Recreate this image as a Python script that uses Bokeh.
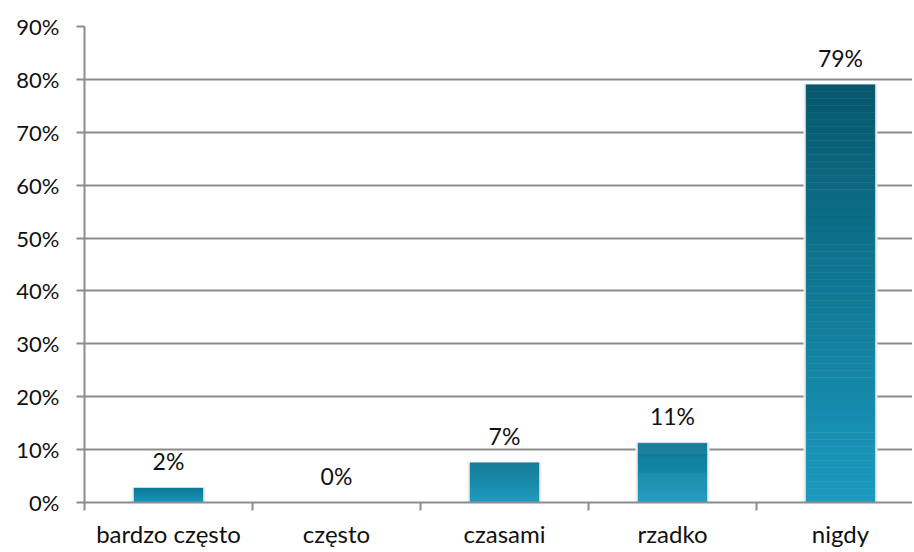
import numpy as np
from bokeh.plotting import figure
from bokeh.models import FixedTicker, NumeralTickFormatter, ColumnDataSource
from bokeh.core.properties import value
from bokeh.embed import file_html
from bokeh.resources import INLINE

categories = ["bardzo często", "często", "czasami", "rzadko", "nigdy"]
values = [2.7, 0.0, 7.5, 11.2, 79.0]          # percent, bar heights
labels = ["2%", "0%", "7%", "11%", "79%"]       # data labels as shown
y_ticks = [0, 10, 20, 30, 40, 50, 60, 70, 80, 90]

FONT = "Lato"
GRID = "#8c8c8c"
LIGHT = np.array([27, 155, 192])
DARK = np.array([6, 88, 108])

W, H = 912, 550
LEFT, TOP, FRAME_H, BAND = 84, 26, 480, 168

centers = [i + 0.5 for i in range(len(categories))]
vals = [v / 100 for v in values]

p = figure(width=W, height=H, output_backend="svg", toolbar_location=None,
           x_range=(0, (W - LEFT) / BAND), y_range=(0, 0.9),
           min_border_left=LEFT, min_border_right=0, min_border_top=TOP,
           min_border_bottom=H - TOP - FRAME_H)
p.outline_line_color = None
p.background_fill_color = "white"
p.xgrid.grid_line_color = None
p.ygrid.grid_line_color = GRID
p.ygrid.grid_line_width = 2
p.ygrid.ticker = FixedTicker(ticks=[t / 100 for t in y_ticks])

# y axis
p.yaxis.ticker = FixedTicker(ticks=[t / 100 for t in y_ticks])
p.yaxis.formatter = NumeralTickFormatter(format="0%")
p.yaxis.axis_line_color = GRID
p.yaxis.axis_line_width = 2
p.yaxis.major_tick_line_color = GRID
p.yaxis.major_tick_line_width = 2
p.yaxis.major_tick_out = 8
p.yaxis.major_tick_in = 0
p.yaxis.minor_tick_line_color = None
p.yaxis.major_label_standoff = 17
p.yaxis.major_label_text_font = FONT
p.yaxis.major_label_text_font_size = "22px"
p.yaxis.major_label_text_color = "#111111"

# x axis: labels at centers, ticks at boundaries
p.xaxis.ticker = FixedTicker(ticks=centers, minor_ticks=list(range(len(categories) + 1)))
p.xaxis.major_label_overrides = {c: n for c, n in zip(centers, categories)}
p.xaxis.axis_line_color = GRID
p.xaxis.axis_line_width = 2
p.xaxis.major_tick_line_color = None
p.xaxis.minor_tick_line_color = GRID
p.xaxis.minor_tick_line_width = 2
p.xaxis.minor_tick_out = 8
p.xaxis.minor_tick_in = 0
p.xaxis.major_label_standoff = 8
p.xaxis.major_label_text_font = FONT
p.xaxis.major_label_text_font_size = "24px"
p.xaxis.major_label_text_color = "#111111"

BAR_W = 0.41
# subtle shadow
p.vbar(x=centers, top=[v + 0.002 if v > 0 else 0 for v in vals], bottom=0,
       width=BAR_W + 0.03, fill_color="#ededed", line_color=None)

# gradient bars from stacked slices
N = 60
vmax = max(vals)
xs, bots, tops, cols = [], [], [], []
for c, v in zip(centers, vals):
    if v <= 0:
        continue
    top_mix = 0.45 + 0.55 * (v / vmax)
    for i in range(N):
        b = v * i / N
        t = v * (i + 1) / N
        frac = (i + 0.5) / N * top_mix
        rgb = (LIGHT + (DARK - LIGHT) * frac).astype(int)
        xs.append(c); bots.append(b); tops.append(t)
        cols.append("#%02x%02x%02x" % tuple(rgb))
src = ColumnDataSource(dict(x=xs, bottom=bots, top=tops, color=cols))
p.vbar(x="x", bottom="bottom", top="top", width=BAR_W, fill_color="color",
       line_color="color", line_width=0.5, source=src)

# data labels
p.text(x=centers, y=vals, text=labels, text_align="center", text_baseline="alphabetic",
       y_offset=-27, text_font=value(FONT), text_font_size="23px", text_color="#111111")

open("out.html", "w").write(file_html(p, INLINE))
